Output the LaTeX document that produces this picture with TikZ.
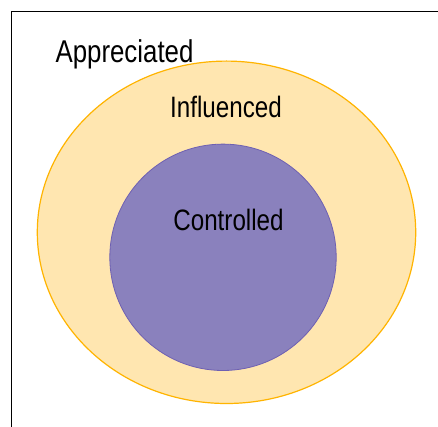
\documentclass[tikz,border=0pt]{standalone}
\usepackage{fontspec}
\setmainfont{Liberation Sans}[FakeStretch=0.82]
\definecolor{yelfill}{RGB}{255,230,176}
\definecolor{yelline}{RGB}{255,180,0}
\definecolor{purfill}{RGB}{138,129,189}
\definecolor{purline}{RGB}{110,96,178}
\begin{document}
\begin{tikzpicture}[x=1pt,y=-1pt,
  lbl/.style={inner sep=0pt,anchor=base,text=black}]
\useasboundingbox (0,0) rectangle (438,427);
\fill[white] (0,0) rectangle (438,427);
\draw[black,line width=1.2pt] (11.5,440) -- (11.5,11.5) -- (450,11.5);
\path[fill=yelfill,draw=yelline,line width=1.2pt] (226.5,232.3) ellipse [x radius=189.2, y radius=171.2];
\path[fill=purfill,draw=purline,line width=0.8pt] (223,257.3) circle [radius=113.2];
\node[lbl,font=\fontsize{31.5}{33}\selectfont] (app) at (124.5,62.7) {Appreciated};
\node[lbl,font=\fontsize{29.5}{32}\selectfont] (inf) at (226,117.3) {Influenced};
\node[lbl,font=\fontsize{29.5}{32}\selectfont] (con) at (228.5,230.5) {Controlled};
\end{tikzpicture}
\end{document}
